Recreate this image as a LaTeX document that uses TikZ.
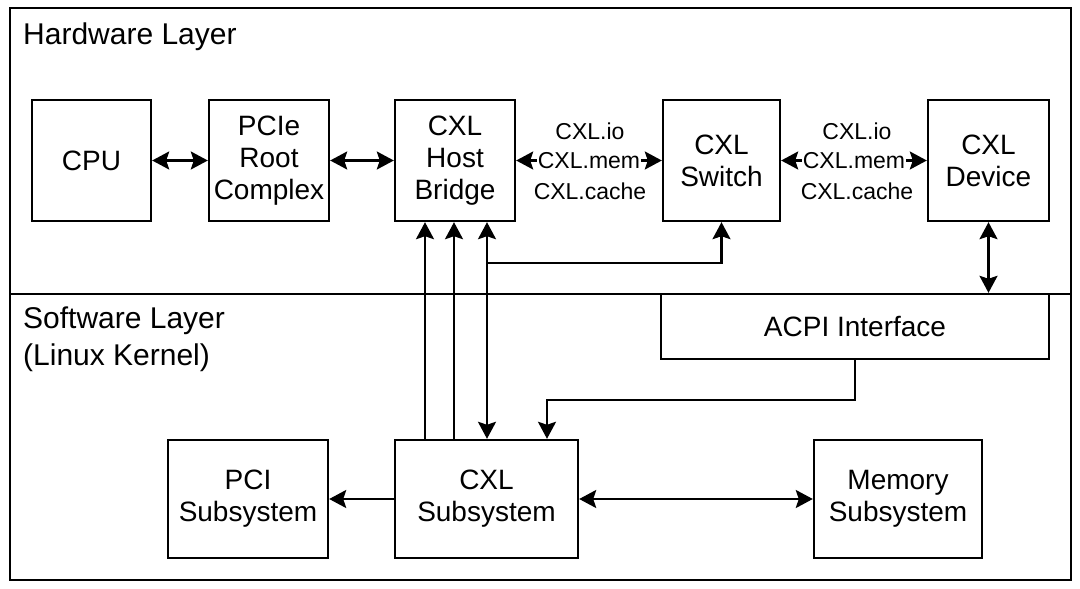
\documentclass[tikz,border=0pt]{standalone}
\usepackage{fontspec}
\setmainfont{Liberation Sans}
\usetikzlibrary{arrows.meta}
\begin{document}
\begin{tikzpicture}[x=1pt,y=-1pt,
  every path/.style={line width=2.4pt},
  box/.style={draw, line width=2.4pt, align=center, inner sep=0pt,
    font=\fontsize{28}{32}\selectfont},
  lbl/.style={font=\fontsize{23}{27}\selectfont, inner sep=0pt},
  layer/.style={font=\fontsize{30}{36}\selectfont, anchor=base west, inner sep=0pt},
  sgl/.style={-{Stealth[length=17pt,width=18pt,inset=3pt]}},
  dbl/.style={{Stealth[length=17pt,width=18pt,inset=3pt]}-{Stealth[length=17pt,width=18pt,inset=3pt]}}
]
\useasboundingbox (0,0) rectangle (1080,589);
% frame and divider
\draw (10,8) rectangle (1071,580);
\draw (10,294) -- (1071,294);
\node[layer] (hwl) at (22,44) {Hardware Layer};
\node[layer] (swl) at (22,328) {Software Layer};
\node[layer] (lk) at (22,365) {(Linux Kernel)};

% hardware boxes
\node[box, minimum width=119pt, minimum height=121pt] (cpu) at (91.5,160.5) {CPU};
\node[box, minimum width=120pt, minimum height=121pt] (pcie) at (269,160.5) {PCIe\\Root\\Complex};
\node[box, minimum width=120pt, minimum height=121pt] (hb) at (455,160.5) {CXL\\Host\\Bridge};
\node[box, minimum width=117pt, minimum height=121pt] (sw) at (721.5,160.5) {CXL\\Switch};
\node[box, minimum width=121pt, minimum height=121pt] (dev) at (988.5,160.5) {CXL\\Device};

% software boxes
\node[box, minimum width=388pt, minimum height=65pt] (acpi) at (855,326.5) {ACPI Interface};
\node[box, minimum width=160pt, minimum height=118pt] (pci) at (248,499) {PCI\\Subsystem};
\node[box, minimum width=183pt, minimum height=118pt] (cxs) at (486.5,499) {CXL\\Subsystem};
\node[box, minimum width=168pt, minimum height=118pt] (mem) at (898,499) {Memory\\Subsystem};

% hardware connectors
\draw[dbl] (cpu.east) -- (pcie.west);
\draw[dbl] (pcie.east) -- (hb.west);
\draw[dbl] (hb.east) -- (sw.west)
  node[midway, lbl, fill=white, inner xsep=1pt] (m1) {CXL.mem};
\draw[dbl] (sw.east) -- (dev.west)
  node[midway, lbl, fill=white, inner xsep=1pt] (m2) {CXL.mem};
\node[lbl] (i1) at (590,131) {CXL.io};
\node[lbl] (c1) at (590,191) {CXL.cache};
\node[lbl] (i2) at (857,131) {CXL.io};
\node[lbl] (c2) at (857,191) {CXL.cache};

% vertical connectors
\coordinate (x1) at (425,0);
\coordinate (x2) at (454,0);
\coordinate (x3) at (487,263);
\coordinate (k) at (547,400);
\draw[sgl] (cxs.north -| x1) -- (hb.south -| x1);
\draw[sgl] (cxs.north -| x2) -- (hb.south -| x2);
\draw[dbl] (hb.south -| x3) -- (cxs.north -| x3);
\draw[sgl] (x3) -| (sw.south);
\draw[dbl] (dev.south) -- (acpi.north -| dev.south);
\draw[sgl] (acpi.south) |- (k) -- (cxs.north -| k);

% bottom connectors
\draw[sgl] (cxs.west) -- (pci.east);
\draw[dbl] (cxs.east) -- (mem.west);
\end{tikzpicture}
\end{document}
